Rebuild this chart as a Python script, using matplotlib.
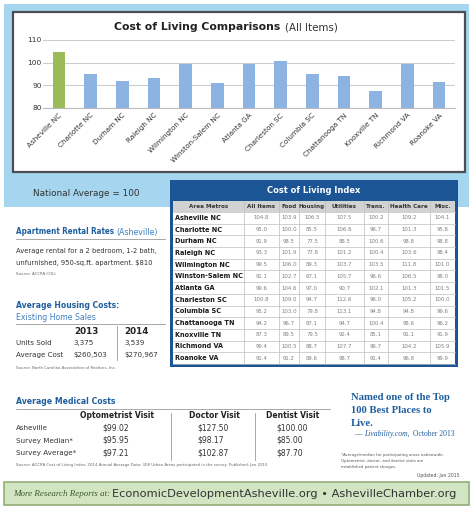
import matplotlib
matplotlib.use('Agg')
import matplotlib.pyplot as plt
from matplotlib.patches import Rectangle

# cost of living index data (ACCRA COLI)
cities = ['Asheville NC', 'Charlotte NC', 'Durham NC', 'Raleigh NC', 'Wilmington NC',
          'Winston-Salem NC', 'Atlanta GA', 'Charleston SC', 'Columbia SC',
          'Chattanooga TN', 'Knoxville TN', 'Richmond VA', 'Roanoke VA']
all_items = [104.8, 95.0, 91.9, 93.3, 99.5, 91.1, 99.6, 100.8, 95.2, 94.2, 87.3, 99.4, 91.4]
food = [103.9, 100.0, 98.5, 101.9, 106.0, 102.7, 104.6, 109.0, 103.0, 96.7, 89.5, 100.5, 91.2]
housing = [106.5, 85.5, 77.5, 77.8, 89.3, 67.1, 97.0, 94.7, 79.8, 87.1, 79.5, 88.7, 89.6]
utilities = [107.5, 106.6, 88.5, 101.2, 103.7, 105.7, 90.7, 112.6, 113.1, 94.7, 92.4, 107.7, 98.7]
trans = [100.2, 96.7, 100.6, 100.4, 103.5, 96.6, 102.1, 96.0, 94.8, 100.4, 85.1, 96.7, 91.4]
health = [109.2, 101.3, 98.8, 103.6, 111.8, 106.5, 101.3, 105.2, 94.8, 98.6, 91.1, 104.2, 96.8]
misc = [104.1, 95.8, 98.8, 98.4, 101.0, 98.0, 101.5, 100.0, 99.6, 96.2, 91.9, 105.9, 99.9]
index_cols = ['All Items', 'Food', 'Housing', 'Utilities', 'Trans.', 'Health Care', 'Misc.']

# housing
housing_years = ['2013', '2014']
units_sold = ['3,375', '3,539']
avg_cost = ['$260,503', '$270,967']

# medical
visit_types = ['Optometrist Visit', 'Doctor Visit', 'Dentist Visit']
med_rows = ['Asheville', 'Survey Median*', 'Survey Average*']
asheville_med = [99.02, 127.50, 100.00]
median_med = [95.95, 98.17, 85.00]
average_med = [97.21, 102.87, 87.70]

BLUE_HEAD = '#1F5E9E'
LIGHT_HEAD = '#3f7fc0'
TABLE_BLUE = '#1B5596'
SKY = '#A5D5EF'
TXT = '#333333'
SERIF = ['Liberation Serif', 'DejaVu Serif']

fig = plt.figure(figsize=(4.74, 5.11), dpi=100)
ax = fig.add_axes([0, 0, 1, 1])
ax.set_xlim(0, 474)
ax.set_ylim(511, 0)
ax.axis('off')


def rect(x0, y0, x1, y1, **kw):
    ax.add_patch(Rectangle((x0, y0), x1 - x0, y1 - y0, **kw))


def heading(x, y, s, size=6.1):
    return ax.text(x, y, s, ha='left', va='center', fontsize=size, fontweight='bold',
                   fontstretch='condensed', color=BLUE_HEAD)


def after(t, s, gap=2, **kw):
    # place a text right after another one
    return ax.annotate(s, xy=(1, 0.5), xycoords=t, xytext=(gap, 0),
                       textcoords='offset points', ha='left', va='center', **kw)


# top sky-blue panel with white chart box
rect(4, 4, 469, 207, facecolor=SKY, edgecolor='none')
rect(13, 12, 465, 172, facecolor='white', edgecolor='#4a4f55', lw=1.6)
ax.text(280, 27, 'Cost of Living Comparisons', ha='right', va='center',
        fontsize=7.8, fontweight='bold', color='#222222')
ax.text(285, 27, '(All Items)', ha='left', va='center', fontsize=7.4, color=TXT)
ax.text(33, 193, 'National Average = 100', ha='left', va='center',
        fontsize=6.4, color=TXT)

# bar chart
cax = fig.add_axes([43 / 474, 1 - 108 / 511, 412 / 474, 68 / 511])
colors = ['#9BBB59'] + ['#8DB3E2'] * (len(cities) - 1)
cax.bar(range(len(cities)), all_items, width=0.4, color=colors)
cax.set_ylim(80, 110)
cax.set_xlim(-0.5, len(cities) - 0.5)
cax.set_yticks([80, 90, 100, 110])
cax.set_xticks(range(len(cities)))
cax.set_xticklabels(cities, rotation=45, ha='right', rotation_mode='anchor', fontsize=5.2,
                    color=TXT)
cax.tick_params(axis='y', labelsize=5.4, length=0, pad=1, labelcolor=TXT)
cax.tick_params(axis='x', length=0, pad=3)
cax.grid(axis='y', color='#cccccc', lw=0.8)
cax.set_axisbelow(True)
for s in ['left', 'top', 'right']:
    cax.spines[s].set_visible(False)
cax.spines['bottom'].set_color('#bbbbbb')

# cost of living index table
tx0, tx1 = 170, 458
rect(tx0, 180, tx1, 367, facecolor=TABLE_BLUE, edgecolor='none')
rect(173, 201, 455, 364, facecolor='white', edgecolor='none')
rect(173, 201, 455, 212, facecolor='#D2D2D2', edgecolor='none')
ax.text((tx0 + tx1) / 2, 190.5, 'Cost of Living Index', ha='center', va='center',
        fontsize=6.7, fontweight='bold', fontstretch='condensed', color='white')
edges = [173, 244, 279, 299, 325, 364, 388, 430, 455]
row_top = 212
row_h = (364 - row_top) / len(cities)
for e in edges[1:-1]:
    ax.plot([e, e], [201, 364], color='#bdbdbd', lw=0.5)
for i in range(len(cities) + 1):
    y = row_top + i * row_h
    ax.plot([173, 455], [y, y], color='#bdbdbd', lw=0.5)
ax.text((edges[0] + edges[1]) / 2, 206.5, 'Area Metros', ha='center', va='center',
        fontsize=4.5, fontweight='bold', fontstretch='condensed', color=TXT)
for j, c in enumerate(index_cols):
    ax.text((edges[j + 1] + edges[j + 2]) / 2, 206.5, c, ha='center', va='center',
            fontsize=4.5, fontweight='bold', fontstretch='condensed', color=TXT)
columns = [all_items, food, housing, utilities, trans, health, misc]
for i, city in enumerate(cities):
    yc = row_top + (i + 0.5) * row_h
    ax.text(175, yc, city, ha='left', va='center', fontsize=4.7,
            fontweight='bold', color='#1a1a1a')
    for j, col in enumerate(columns):
        ax.text((edges[j + 1] + edges[j + 2]) / 2, yc, '%.1f' % col[i], ha='center',
                va='center', fontsize=3.9, color='#808080')

# apartment rental rates
t = heading(16, 232, 'Apartment Rental Rates', size=5.8)
after(t, '(Asheville)', fontsize=5.7, color=LIGHT_HEAD)
ax.plot([16, 165], [239, 239], color='#999999', lw=0.6)
ax.text(16, 251, 'Average rental for a 2 bedroom, 1-2 bath,', ha='left', va='center',
        fontsize=4.85, color=TXT)
ax.text(16, 263, 'unfurnished, 950-sq.ft. apartment. $810', ha='left', va='center',
        fontsize=4.85, color=TXT)
ax.text(16, 274, 'Source: ACCRA COLI', ha='left', va='center', fontsize=2.8, color='#666666')

# average housing costs
heading(16, 305, 'Average Housing Costs:')
ax.text(16, 317, 'Existing Home Sales', ha='left', va='center', fontsize=5.6,
        color=LIGHT_HEAD)
ax.plot([16, 165], [324, 324], color='#999999', lw=0.6)
ax.plot([117, 117], [326, 360], color='#999999', lw=0.6)
yr_x = [86, 136]
val_x = [73, 124]
for k in range(2):
    ax.text(yr_x[k], 331, housing_years[k], ha='center', va='center', fontsize=6.3,
            fontweight='bold', color='#222222')
    ax.text(val_x[k], 343, units_sold[k], ha='left', va='center', fontsize=5.1, color=TXT)
    ax.text(val_x[k], 355, avg_cost[k], ha='left', va='center', fontsize=5.1, color=TXT)
ax.text(16, 343, 'Units Sold', ha='left', va='center', fontsize=5.1, color=TXT)
ax.text(16, 355, 'Average Cost', ha='left', va='center', fontsize=5.1, color=TXT)
ax.text(16, 368, 'Source: North Carolina Association of Realtors, Inc.', ha='left',
        va='center', fontsize=2.8, color='#666666')

# average medical costs
heading(16, 402, 'Average Medical Costs', size=6.2)
ax.plot([16, 330], [409, 409], color='#999999', lw=0.6)
head_x = [117, 214, 293]
med_x = [102, 197, 276]
for k, v in enumerate(visit_types):
    ax.text(head_x[k], 416, v, ha='center', va='center', fontsize=5.5,
            fontweight='bold', color='#222222')
for sx in [171, 255]:
    ax.plot([sx, sx], [413, 460], color='#999999', lw=0.6)
med_vals = [asheville_med, median_med, average_med]
for i, lab in enumerate(med_rows):
    yc = 428 + i * 12.5
    ax.text(16, yc, lab, ha='left', va='center', fontsize=5.1, color=TXT)
    for k in range(3):
        ax.text(med_x[k], yc, '$%.2f' % med_vals[i][k], ha='left', va='center',
                fontsize=5.5, color=TXT)
ax.text(16, 465, 'Source: ACCRA Cost of Living Index, 2014 Annual Average Data: 308 Urban '
        'Areas participated in the survey. Published: Jan 2015', ha='left', va='center',
        fontsize=2.8, color='#666666')

# top 100 callout
for k, line in enumerate(['Named one of the Top', '100 Best Places to', 'Live.']):
    ax.text(351, 398 + k * 12.5, line, ha='left', va='center', fontsize=7.7,
            fontweight='bold', color=BLUE_HEAD, family=SERIF)
t = ax.text(354, 434, '\u2014', ha='left', va='center', fontsize=5.5, color=BLUE_HEAD,
            family=SERIF)
t = after(t, 'Livability.com,', fontsize=5.5, style='italic', color=BLUE_HEAD, family=SERIF)
after(t, 'October 2013', fontsize=5.5, color=BLUE_HEAD, family=SERIF)
notes = ['*Average/median for participating areas nationwide.',
         'Optometrist, doctor, and dentist visits are',
         'established patient charges.']
for k, line in enumerate(notes):
    ax.text(341, 455 + k * 6, line, ha='left', va='center', fontsize=2.8, color='#555555')
ax.text(460, 476, 'Updated: Jan 2015', ha='right', va='center', fontsize=3.3, color='#555555')

# footer band
rect(4, 482, 469, 505, facecolor='#D2E5C2', edgecolor='#93AD78', lw=1.2)
ax.text(13, 494, 'More Research Reports at:', ha='left', va='center', fontsize=6.5,
        style='italic', color='#3f5a30', family=SERIF)
ax.text(112, 494, 'EconomicDevelopmentAsheville.org \u2022 AshevilleChamber.org',
        ha='left', va='center', fontsize=8.2, color=TXT)

fig.savefig('out.png', dpi=100)
